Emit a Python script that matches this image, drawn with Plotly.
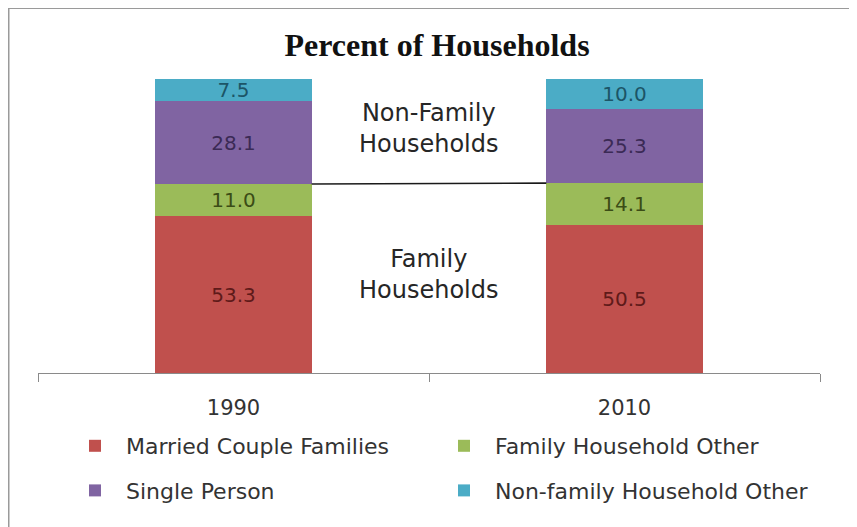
import plotly.graph_objects as go

years = ["1990", "2010"]
married = [53.3, 50.5]
family_other = [11.0, 14.1]
single = [28.1, 25.3]
nonfamily_other = [7.5, 10.0]

series = [
    ("Married Couple Families", married, "#C0504D", "#5e1a19", "legend"),
    ("Family Household Other", family_other, "#9BBB59", "#3b4c16", "legend2"),
    ("Single Person", single, "#8064A2", "#3b2a55", "legend"),
    ("Non-family Household Other", nonfamily_other, "#4BACC6", "#1c5566", "legend2"),
]

FONT = "DejaVu Sans"
BAR_W = 0.4

fig = go.Figure()
for i, (name, vals, color, tcolor, leg) in enumerate(series):
    fig.add_trace(go.Bar(
        name=name, x=years, y=vals, width=BAR_W,
        marker=dict(color=color, line=dict(width=0)),
        text=[f"{v:.1f}" for v in vals], textposition="inside",
        insidetextanchor="middle", constraintext="none",
        textfont=dict(family=FONT, size=20, color=tcolor),
        legend=leg, legendgroup=name, hoverinfo="skip",
    ))

# series line connecting family / non-family boundary
fam_top = [m + f for m, f in zip(married, family_other)]
fig.add_shape(type="line", xref="x", yref="y",
              x0=0 + BAR_W / 2, y0=fam_top[0], x1=1 - BAR_W / 2, y1=fam_top[1],
              line=dict(color="#1a1a1a", width=1.6))

fig.add_annotation(x=0.5, y=83, xref="x", yref="y", text="Non-Family<br>Households",
                   showarrow=False, font=dict(family=FONT, size=24, color="#262626"))
fig.add_annotation(x=0.5, y=33.5, xref="x", yref="y", text="Family<br>Households",
                   showarrow=False, font=dict(family=FONT, size=24, color="#262626"))

# page body has an 8px margin; figure origin sits at window (8, 8)
OFF = 8
L, R, T, B = 38 - OFF, 37, 79 - OFF, 162 - OFF
W, H = 857 - OFF, 527 - OFF
pw, ph = W - L - R, H - T - B
def px(x): return (x - OFF - L) / pw
def py(y): return (H - B - (y - OFF)) / ph
fig.add_shape(type="line", xref="paper", yref="paper", x0=px(8), x1=px(857), y0=py(8), y1=py(8),
              line=dict(color="#9a9a9a", width=2))
fig.add_shape(type="line", xref="paper", yref="paper", x0=px(8.5), x1=px(8.5), y0=py(8), y1=py(527),
              line=dict(color="#9a9a9a", width=2))

fig.update_layout(
    width=W, height=H,
    margin=dict(l=L, r=R, t=T, b=B),
    paper_bgcolor="white", plot_bgcolor="white",
    barmode="stack", bargap=0.6,
    title=dict(text="<b>Percent of Households</b>", x=px(437), xref="paper", xanchor="center",
               y=1 - (45 - OFF) / H, yanchor="middle",
               font=dict(family="Liberation Serif", size=32, color="#111111")),
    xaxis=dict(type="category", range=[-0.5, 1.5], showline=True, linecolor="#8a8a8a", linewidth=1,
               ticks="outside", tickson="boundaries", ticklen=8, tickcolor="#8a8a8a",
               tickfont=dict(family=FONT, size=21, color="#333333"), ticklabelstandoff=16,
               showgrid=False, zeroline=False, fixedrange=True),
    yaxis=dict(range=[0, 100], visible=False, showgrid=False, zeroline=False, fixedrange=True),
    legend=dict(x=px(64), y=py(425), xanchor="left", yanchor="top", orientation="v",
                traceorder="grouped", tracegroupgap=13, itemwidth=52, bgcolor="rgba(0,0,0,0)",
                font=dict(family=FONT, size=22, color="#333333")),
    legend2=dict(x=px(433), y=py(425), xanchor="left", yanchor="top", orientation="v",
                 traceorder="grouped", tracegroupgap=13, itemwidth=52, bgcolor="rgba(0,0,0,0)",
                 font=dict(family=FONT, size=22, color="#333333")),
    showlegend=True,
)

fig.write_html("out.html")
